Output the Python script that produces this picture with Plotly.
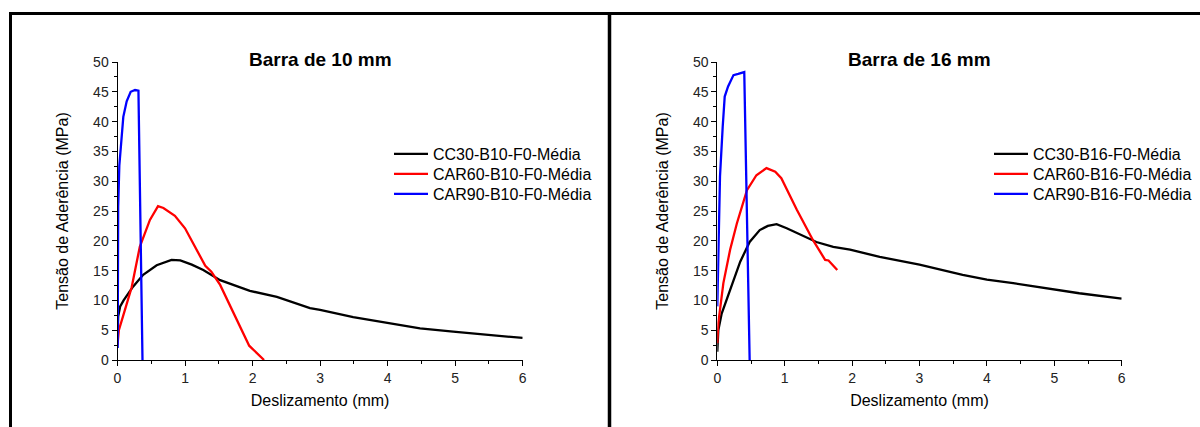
import plotly.graph_objects as go

# Bond stress vs. slip curves (mean of specimens), 10 mm and 16 mm bars
series_names_b10 = ["CC30-B10-F0-Média", "CAR60-B10-F0-Média", "CAR90-B10-F0-Média"]
series_names_b16 = ["CC30-B16-F0-Média", "CAR60-B16-F0-Média", "CAR90-B16-F0-Média"]
panel_titles = ["Barra de 10 mm", "Barra de 16 mm"]
x_title = "Deslizamento (mm)"
y_title = "Tensão de Aderência (MPa)"

# --- 10 mm bar ---
cc30_b10_x = [0, 0.01, 0.04, 0.09, 0.23, 0.38, 0.58, 0.8, 0.93, 1.1, 1.27, 1.52, 1.96,
              2.36, 2.85, 3.0, 3.49, 3.99, 4.48, 4.97, 5.47, 6.0]
cc30_b10_y = [3.5, 7.3, 9.0, 10.0, 12.3, 14.3, 15.9, 16.8, 16.7, 16.0, 15.1, 13.4, 11.6,
              10.6, 8.7, 8.4, 7.2, 6.2, 5.3, 4.75, 4.2, 3.7]

car60_b10_x = [0, 0.02, 0.11, 0.21, 0.33, 0.48, 0.6, 0.68, 0.85, 1.0, 1.3, 1.39, 1.52,
               1.72, 1.95, 2.17]
car60_b10_y = [2.5, 5.0, 8.4, 12.2, 19.0, 23.5, 25.8, 25.5, 24.2, 22.1, 15.8, 14.8, 12.6,
               7.8, 2.4, 0.0]

car90_b10_x = [0.003, 0.005, 0.01, 0.027, 0.062, 0.086, 0.136, 0.195, 0.26, 0.31, 0.37]
car90_b10_y = [2.0, 15.0, 25.7, 32.6, 38.2, 40.8, 43.4, 45.0, 45.3, 45.2, 0.0]

# --- 16 mm bar ---
cc30_b16_x = [0, 0.015, 0.065, 0.19, 0.34, 0.48, 0.63, 0.75, 0.88, 1.03, 1.23, 1.47, 1.72,
              1.97, 2.41, 3.0, 3.64, 4.0, 4.39, 5.0, 5.37, 6.0]
cc30_b16_y = [1.4, 5.0, 7.8, 11.7, 16.5, 19.8, 21.8, 22.5, 22.8, 22.1, 21.0, 19.8, 19.0,
              18.5, 17.3, 16.0, 14.3, 13.5, 12.9, 11.9, 11.2, 10.3]

car60_b16_x = [0.0, 0.015, 0.09, 0.19, 0.29, 0.44, 0.58, 0.73, 0.86, 0.95, 1.18, 1.42,
               1.6, 1.65, 1.78]
car60_b16_y = [2.8, 6.2, 12.9, 18.5, 22.9, 28.5, 31.0, 32.2, 31.6, 30.5, 25.2, 20.1,
               16.8, 16.7, 15.1]

car90_b16_x = [0.0, 0.015, 0.04, 0.08, 0.11, 0.16, 0.24, 0.31, 0.40, 0.48]
car90_b16_y = [9.0, 18.5, 30.8, 39.1, 44.2, 45.9, 47.8, 48.0, 48.3, 0.0]

colors = ["#000000", "#ff0000", "#0000ff"]
FONT = "Arial, 'Liberation Sans', sans-serif"

H = 427.0
W = 1200.0
y_dom = [1 - 360 / H, 1 - 62 / H]
x_dom1 = [117.5 / W, 522.7 / W]
x_dom2 = [717.3 / W, 1121.7 / W]

fig = go.Figure()

left = [(cc30_b10_x, cc30_b10_y), (car60_b10_x, car60_b10_y), (car90_b10_x, car90_b10_y)]
right = [(cc30_b16_x, cc30_b16_y), (car60_b16_x, car60_b16_y), (car90_b16_x, car90_b16_y)]

# each legend entry gets its own legend box so the rows can be spaced tightly
legend_rows_top = [137, 157, 177]
legend_style = dict(font=dict(family=FONT, size=16, color="#000000"),
                    bgcolor="rgba(0,0,0,0)", borderwidth=0,
                    xanchor="left", yanchor="top", itemwidth=34)
legends = {}
k = 0
for panel, (series, names, lx) in enumerate([(left, series_names_b10, 389),
                                             (right, series_names_b16, 989)]):
    xa, ya = ("x", "y") if panel == 0 else ("x2", "y2")
    for (xs, ys), name, c, top in zip(series, names, colors, legend_rows_top):
        k += 1
        lname = "legend" if k == 1 else f"legend{k}"
        fig.add_trace(go.Scatter(x=xs, y=ys, name=name, mode="lines",
                                 line=dict(color=c, width=2.3), showlegend=True,
                                 xaxis=xa, yaxis=ya, legend=lname))
        legends[lname] = dict(x=lx / W, y=1 - top / H, **legend_style)

tickfont = dict(family=FONT, size=14, color="#222222")
titlefont = dict(family=FONT, size=16, color="#000000")


def xaxis(domain, anchor):
    return dict(domain=domain, anchor=anchor, range=[0, 6], dtick=1, tick0=0,
                automargin=False,
                showgrid=False, zeroline=False, showline=True, linecolor="#000000",
                linewidth=1, ticks="outside", ticklen=5, tickcolor="#000000",
                tickfont=tickfont,
                minor=dict(dtick=0.5, ticks="outside", ticklen=3, tickcolor="#000000"),
                title=dict(text=x_title, font=titlefont, standoff=10))


def yaxis(domain, anchor):
    return dict(domain=domain, anchor=anchor, range=[0, 50], dtick=5, tick0=0,
                automargin=False,
                showgrid=False, zeroline=False, showline=True, linecolor="#000000",
                linewidth=1, ticks="outside", ticklen=5, tickcolor="#000000",
                tickfont=tickfont,
                minor=dict(dtick=2.5, ticks="outside", ticklen=3, tickcolor="#000000"),
                title=dict(text=y_title, font=titlefont, standoff=20))


fig.update_layout(
    width=1200, height=427,
    showlegend=True,
    margin=dict(l=0, r=0, t=0, b=0, autoexpand=False),
    paper_bgcolor="#ffffff", plot_bgcolor="#ffffff",
    xaxis=xaxis(x_dom1, "y"),
    yaxis=yaxis(y_dom, "x"),
    xaxis2=xaxis(x_dom2, "y2"),
    yaxis2=yaxis(y_dom, "x2"),
    annotations=[
        dict(text="<b>" + panel_titles[0] + "</b>", x=sum(x_dom1) / 2, y=1 - 60 / H,
             xref="paper", yref="paper", showarrow=False, xanchor="center",
             yanchor="middle", font=dict(family=FONT, size=19, color="#000000")),
        dict(text="<b>" + panel_titles[1] + "</b>", x=sum(x_dom2) / 2, y=1 - 60 / H,
             xref="paper", yref="paper", showarrow=False, xanchor="center",
             yanchor="middle", font=dict(family=FONT, size=19, color="#000000")),
    ],
    shapes=[
        # frame: top edge, left edge and the divider between the two panels
        dict(type="line", xref="paper", yref="paper", x0=9.5 / W, x1=1.0,
             y0=1 - 13.5 / H, y1=1 - 13.5 / H, line=dict(color="#000000", width=3)),
        dict(type="line", xref="paper", yref="paper", x0=10.5 / W, x1=10.5 / W,
             y0=0, y1=1 - 12 / H, line=dict(color="#000000", width=3)),
        dict(type="line", xref="paper", yref="paper", x0=609.5 / W, x1=609.5 / W,
             y0=0, y1=1 - 12 / H, line=dict(color="#000000", width=3.5)),
    ],
    **legends,
)

fig.write_html("out.html")
